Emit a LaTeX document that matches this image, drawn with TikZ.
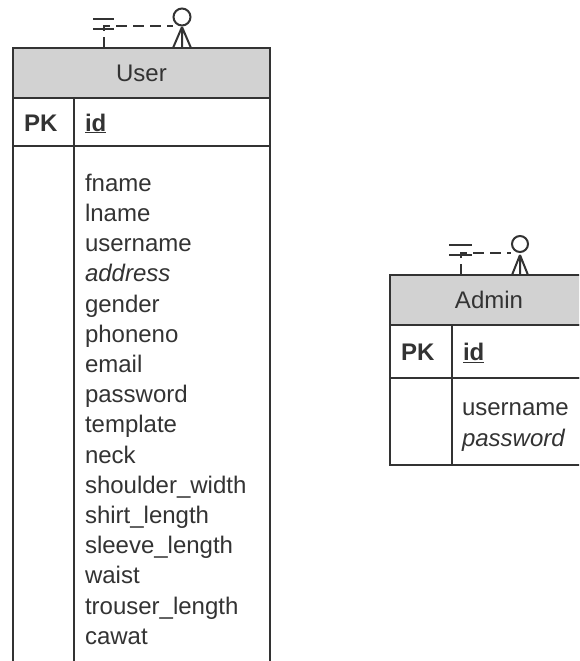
\documentclass[tikz,border=0pt]{standalone}
\usepackage{fontspec}
\setmainfont{Liberation Sans}
\usetikzlibrary{positioning, calc}
\tikzset{
	x=1pt, y=-1pt, % one unit is one pixel of the sketch, y grows downwards
	node distance=0pt, % the cells of a table touch each other
	every node/.style={font=\fontsize{24}{30.2}\selectfont, text=black!80, outer sep=0pt},
	tablehead/.style={draw=black!80, line width=1.6pt, fill=gray!35, minimum height=50pt, inner sep=0pt}, % grey title bar
	keycell/.style={draw=black!80, line width=1.6pt, inner xsep=11pt, inner ysep=0pt, align=left,
		text height=18pt, text depth=0pt, font=\fontsize{24}{30.2}\selectfont\bfseries},
	fieldcell/.style={keycell},
	tablecol/.style={draw=black!80, line width=1.6pt, inner sep=0pt}, % empty column of the body
	attrlist/.style={inner sep=0pt, align=left},
	relline/.style={draw=black!80, line width=1.9pt, dash pattern=on 11pt off 6pt},
	relmark/.style={draw=black!80, line width=2pt},
}
\begin{document}
\begin{tikzpicture}
	\useasboundingbox (0,0) rectangle (579,661);
	\clip (0,0) rectangle (579,661);

	% User
	\node[tablehead, minimum width=257pt] (userHead) at (141.5,73) {User};
	\node[keycell, text width=39pt, minimum height=48pt, below right=0pt and 0pt of userHead.south west] (userPK) {PK};
	\node[fieldcell, text width=174pt, minimum height=48pt, right=of userPK] (userId) {\underline{id}};
	\node[tablecol, minimum width=61pt, minimum height=534pt, below=of userPK] (userKeys) {};
	\node[tablecol, minimum width=196pt, minimum height=534pt, right=of userKeys] (userAttrs) {};
	\node[attrlist, below right=28pt and 11pt of userAttrs.north west] (userList) {fname\\lname\\username\\\textit{address}\\gender\\phoneno\\email\\password\\template\\neck\\shoulder\_width\\shirt\_length\\sleeve\_length\\waist\\trouser\_length\\cawat};

	% Admin
	\node[tablehead, minimum width=198pt] (adminHead) at (489,300) {Admin};
	\node[keycell, text width=40pt, minimum height=53pt, below right=0pt and 0pt of adminHead.south west] (adminPK) {PK};
	\node[fieldcell, text width=114pt, minimum height=53pt, right=of adminPK] (adminId) {\underline{id}};
	\node[tablecol, minimum width=62pt, minimum height=87pt, below=of adminPK] (adminKeys) {};
	\node[tablecol, minimum width=136pt, minimum height=87pt, right=of adminKeys] (adminAttrs) {};
	\node[attrlist, below right=25pt and 10pt of adminAttrs.north west] (adminList) {username\\\textit{password}};

	% self relation of User
	\coordinate (userOne) at ($(userHead.north west)+(91,0)$);
	\coordinate (userMany) at ($(userHead.north west)+(169,0)$);
	\draw[relline] (userOne) |- ($(userMany)+(-9,-22)$);
	\draw[relmark] ($(userOne)+(-11,-29)$) -- ++(21,0)
		($(userOne)+(-11,-19)$) -- ++(21,0);
	\draw[relmark] ($(userMany)+(0,-31)$) circle (8.5pt);
	\draw[relmark] ($(userMany)+(0,-21)$) -- ($(userMany)+(-9,0)$)
		($(userMany)+(0,-21)$) -- (userMany)
		($(userMany)+(0,-21)$) -- ($(userMany)+(9,0)$);

	% self relation of Admin
	\coordinate (adminOne) at ($(adminHead.north west)+(71,0)$);
	\coordinate (adminMany) at ($(adminHead.north west)+(130,0)$);
	\draw[relline] (adminOne) |- ($(adminMany)+(-9,-22)$);
	\draw[relmark] ($(adminOne)+(-12,-30)$) -- ++(23,0)
		($(adminOne)+(-12,-20)$) -- ++(23,0);
	\draw[relmark] ($(adminMany)+(0,-31)$) circle (8pt);
	\draw[relmark] ($(adminMany)+(0,-20)$) -- ($(adminMany)+(-8,0)$)
		($(adminMany)+(0,-20)$) -- (adminMany)
		($(adminMany)+(0,-20)$) -- ($(adminMany)+(8,0)$);
\end{tikzpicture}
\end{document}
